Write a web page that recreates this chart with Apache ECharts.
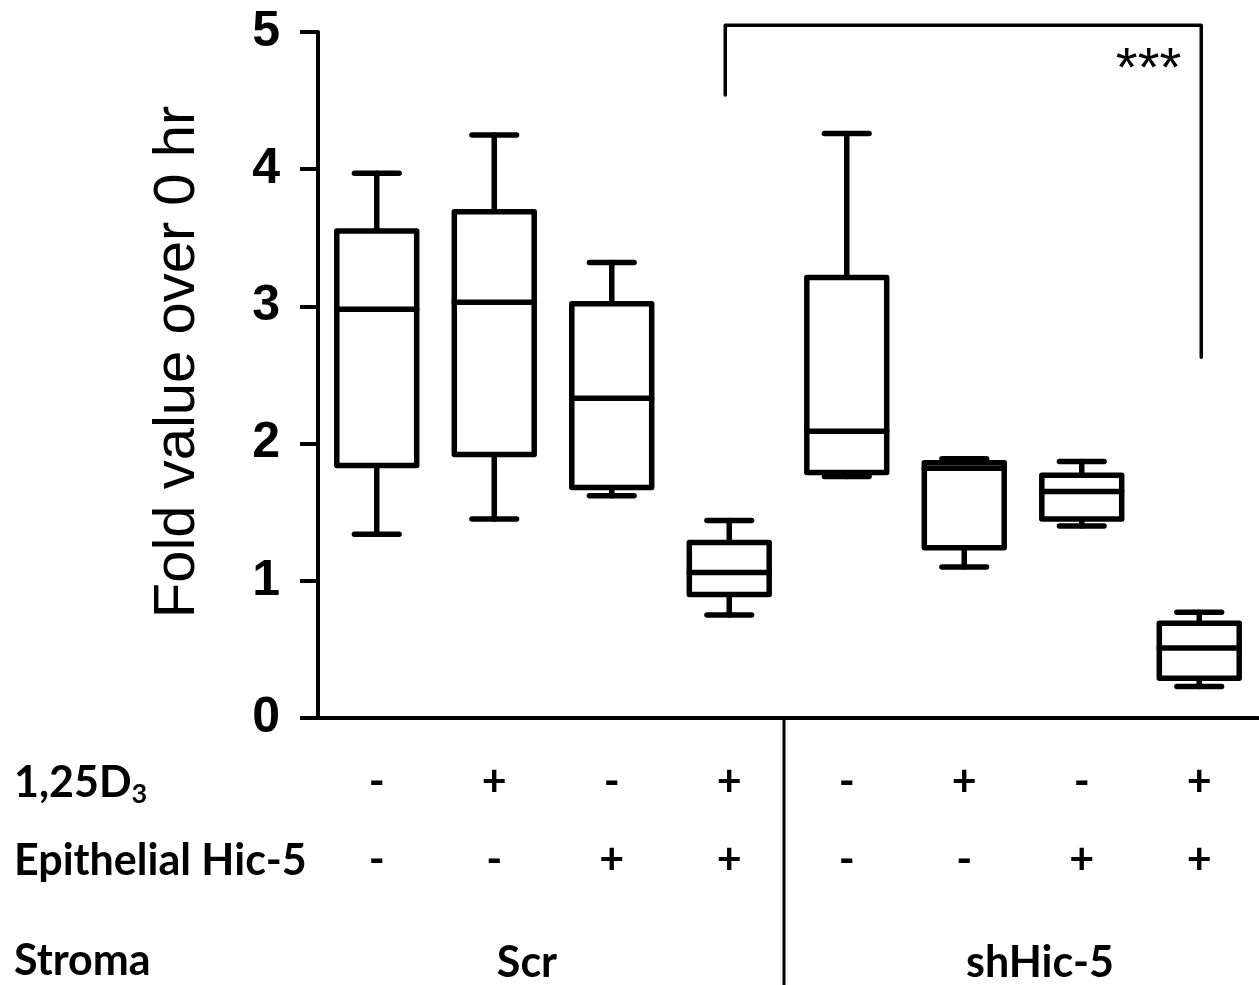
<!DOCTYPE html>
<html>
<head>
<meta charset="utf-8">
<script src="https://cdn.jsdelivr.net/npm/echarts@6/dist/echarts.min.js"></script>
<style>html,body{margin:0;padding:0;background:#fff}#c{width:1259px;height:985px}</style>
</head>
<body>
<div id="c"></div>
<script>
// ---- data ----
const categories = ['Scr -/-', 'Scr +/-', 'Scr -/+', 'Scr +/+', 'shHic-5 -/-', 'shHic-5 +/-', 'shHic-5 -/+', 'shHic-5 +/+'];
const minVals    = [1.34, 1.45, 1.62, 0.75, 1.76, 1.10, 1.40, 0.23];
const q1Vals     = [1.84, 1.92, 1.68, 0.90, 1.79, 1.24, 1.45, 0.29];
const medianVals = [2.98, 3.03, 2.33, 1.06, 2.09, 1.82, 1.65, 0.51];
const q3Vals     = [3.55, 3.69, 3.02, 1.28, 3.21, 1.86, 1.77, 0.69];
const maxVals    = [3.97, 4.25, 3.32, 1.44, 4.26, 1.89, 1.87, 0.77];
const d3Signs    = ['-', '+', '-', '+', '-', '+', '-', '+'];
const hicSigns   = ['-', '-', '+', '+', '-', '-', '+', '+'];
const stromaGroups = ['Scr', 'shHic-5'];
const yTicks     = [0, 1, 2, 3, 4, 5];
const bracket    = { from: 3, to: 7, leftY: 4.54, topY: 5.05, rightY: 2.63, label: '***' };

// ---- layout ----
const GRID = { left: 318, right: 1, top: 32, bottom: 267 };
const labelFont = 'Lato, "Open Sans", sans-serif';
const stromaX = [527, 1040];

const chart = echarts.init(document.getElementById('c'), null, { renderer: 'canvas' });

function renderBox(params, api) {
  const i = api.value(0);
  const cx = api.coord([i, 0])[0];
  const y = k => api.coord([i, api.value(k)])[1];
  const yMin = y(1), yQ1 = y(2), yMed = y(3), yQ3 = y(4), yMax = y(5);
  const band = api.size([1, 0])[0];
  const bw = band * 0.68, cw = band * 0.38;
  const st = { stroke: '#000', lineWidth: 5.5, lineCap: 'round' };
  return {
    type: 'group',
    children: [
      { type: 'line', shape: { x1: cx, y1: yQ3, x2: cx, y2: yMax }, style: st },
      { type: 'line', shape: { x1: cx, y1: yQ1, x2: cx, y2: yMin }, style: st },
      { type: 'line', shape: { x1: cx - cw / 2, y1: yMax, x2: cx + cw / 2, y2: yMax }, style: st },
      { type: 'line', shape: { x1: cx - cw / 2, y1: yMin, x2: cx + cw / 2, y2: yMin }, style: st },
      { type: 'rect', shape: { x: cx - bw / 2, y: yQ3, width: bw, height: yQ1 - yQ3 },
        style: { fill: '#fff', stroke: '#000', lineWidth: 5.5, lineJoin: 'round' } },
      { type: 'line', shape: { x1: cx - bw / 2, y1: yMed, x2: cx + bw / 2, y2: yMed }, style: st }
    ]
  };
}

function renderBracket(params, api) {
  const x1 = api.coord([api.value(0), 0])[0];
  const x2 = api.coord([api.value(1), 0])[0];
  const yl = api.coord([0, api.value(2)])[1];
  const yt = api.coord([0, api.value(3)])[1];
  const yr = api.coord([0, api.value(4)])[1];
  return {
    type: 'group',
    children: [
      { type: 'polyline', shape: { points: [[x1 - 4, yl], [x1 - 4, yt], [x2 + 2, yt], [x2 + 2, yr]] },
        style: { stroke: '#000', lineWidth: 3.5, fill: null, lineJoin: 'round', lineCap: 'round' } },
      { type: 'text', x: x2 - 18, y: yt + 45,
        style: { text: bracket.label, align: 'right', verticalAlign: 'middle',
                 font: '56px "Liberation Sans", Arial, sans-serif', fill: '#000' } }
    ]
  };
}

const sub = { fontSize: 27, fontWeight: 'bold', fontFamily: labelFont, color: '#000', padding: [22, 0, 0, 0] };

const option = {
  backgroundColor: '#fff',
  animation: false,
  grid: GRID,
  xAxis: [
    { type: 'category', data: categories, boundaryGap: true,
      axisLine: { show: true, lineStyle: { color: '#000', width: 4 } },
      axisTick: { show: false }, axisLabel: { show: false }, splitLine: { show: false } },
    { type: 'category', data: d3Signs.map((s, i) => i), position: 'bottom', offset: 43,
      axisLine: { show: false }, axisTick: { show: false },
      axisLabel: { margin: 0, formatter: (v, i) => d3Signs[i], fontSize: 43, fontWeight: 'bold', fontFamily: labelFont, color: '#000', interval: 0 } },
    { type: 'category', data: hicSigns.map((s, i) => i), position: 'bottom', offset: 121,
      axisLine: { show: false }, axisTick: { show: false },
      axisLabel: { margin: 0, formatter: (v, i) => hicSigns[i], fontSize: 43, fontWeight: 'bold', fontFamily: labelFont, color: '#000', interval: 0 } }
  ],
  yAxis: {
    type: 'value', min: yTicks[0], max: yTicks[yTicks.length - 1], interval: 1,
    axisLine: { show: true, lineStyle: { color: '#000', width: 4 } },
    axisTick: { show: true, length: 18, lineStyle: { color: '#000', width: 4 } },
    axisLabel: { margin: 38, fontSize: 50, fontWeight: 'bold', fontFamily: '"Liberation Sans", Arial, sans-serif', color: '#000' },
    splitLine: { show: false }
  },
  series: [
    { type: 'custom', name: 'box', xAxisIndex: 0, renderItem: renderBox, clip: false,
      encode: { x: 0, y: [1, 2, 3, 4, 5] },
      data: categories.map((c, i) => [i, minVals[i], q1Vals[i], medianVals[i], q3Vals[i], maxVals[i]]) },
    { type: 'custom', name: 'bracket', xAxisIndex: 0, renderItem: renderBracket, clip: false,
      encode: { x: [0, 1], y: [2, 3, 4] },
      data: [[bracket.from, bracket.to, bracket.leftY, bracket.topY, bracket.rightY]] }
  ],
  graphic: [
    { type: 'text', x: 178, y: 362, rotation: Math.PI / 2,
      style: { text: 'Fold value over 0 hr', align: 'center', verticalAlign: 'middle',
               font: '58px "Liberation Sans", Arial, sans-serif', fill: '#000' } },
    { type: 'text', left: 14, top: 762,
      style: { text: '{m|1,25D}{s|3}', rich: { m: { fontSize: 43, fontWeight: 'bold', fontFamily: labelFont, color: '#000' }, s: sub } } },
    { type: 'text', left: 14, top: 840,
      style: { text: 'Epithelial Hic-5', font: 'bold 43px ' + labelFont, fill: '#000' } },
    { type: 'text', left: 14, top: 940,
      style: { text: 'Stroma', font: 'bold 43px ' + labelFont, fill: '#000' } },
    { type: 'line', shape: { x1: 784, y1: 718, x2: 784, y2: 985 }, style: { stroke: '#000', lineWidth: 3 } }
  ].concat(stromaGroups.map((g, i) => ({
    type: 'text', x: stromaX[i], y: 963,
    style: { text: g, align: 'center', verticalAlign: 'middle', font: 'bold 43px ' + labelFont, fill: '#000' }
  })))
};
chart.setOption(option);
</script>
</body>
</html>
